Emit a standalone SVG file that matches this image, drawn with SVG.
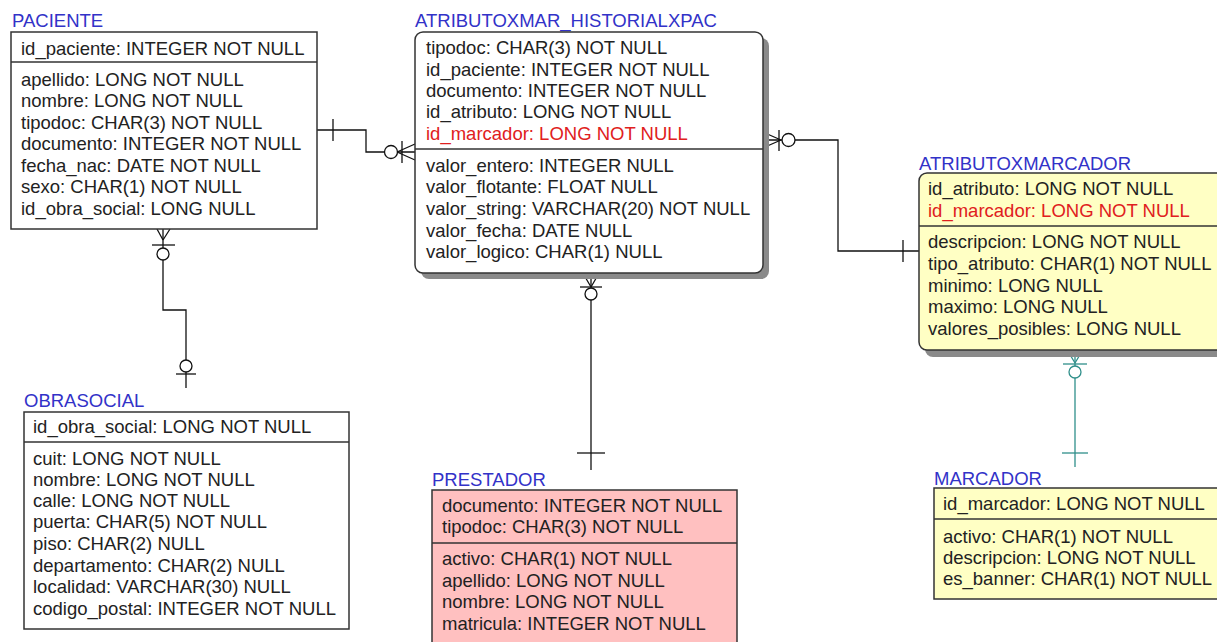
<svg xmlns="http://www.w3.org/2000/svg" width="1217" height="642" viewBox="0 0 1217 642">
<style>
text{font-family:"Liberation Sans",Arial,sans-serif;font-size:18.5px;fill:#222}
.t{fill:#3232c8}
.r{fill:#e02020}
.box{stroke:#333;stroke-width:1.5}
.div{stroke:#333;stroke-width:1.5}
.c{fill:none;stroke:#111;stroke-width:1.3}
.ct{fill:none;stroke:#2f8f8a;stroke-width:1.3}
.o{fill:#fff}
</style>
<rect width="1217" height="642" fill="#fff"/>
<g id="connectors">
  <g class="c">
    <path d="M317,130 H366 V152 H415"/>
    <path d="M333,119 V141"/>
    <circle class="o" cx="391" cy="152" r="6.5"/>
    <path d="M402,141 V163"/>
    <path d="M397,152 L415,144 M397,152 L415,160"/>

    <path d="M765,140 H838 V251 H919"/>
    <path d="M781,140 L765,133 M781,140 L765,147"/>
    <path d="M779,130 V151"/>
    <circle class="o" cx="788.5" cy="140" r="6.5"/>
    <path d="M903,240 V262"/>

    <path d="M163,229 V310 H186 V388"/>
    <path d="M163,240 L157,229 M163,240 L170,229"/>
    <path d="M152,245 H175"/>
    <circle class="o" cx="163" cy="254" r="6"/>
    <circle class="o" cx="186" cy="366" r="6"/>
    <path d="M176,374 H196"/>

    <path d="M591,279 V470"/>
    <path d="M591,287 L584,275 M591,287 L598,275"/>
    <path d="M580,287 H602"/>
    <circle class="o" cx="591" cy="294" r="6"/>
    <path d="M577,453 H605"/>
  </g>
  <g class="ct">
    <path d="M1075,357 V467"/>
    <path d="M1075,363 L1069,353 M1075,363 L1081,353"/>
    <path d="M1063,364 H1087"/>
    <circle class="o" cx="1075" cy="372" r="6"/>
    <path d="M1062,453 H1088"/>
  </g>
</g>

<g id="paciente">
  <text class="t" x="12" y="27">PACIENTE</text>
  <rect class="box" x="11" y="32" width="306" height="197" fill="#fff"/>
  <line class="div" x1="11" y1="62" x2="317" y2="62"/>
  <text x="21" y="55">id_paciente: INTEGER NOT NULL</text>
  <text x="21" y="86">apellido: LONG NOT NULL</text>
  <text x="21" y="107">nombre: LONG NOT NULL</text>
  <text x="21" y="129">tipodoc: CHAR(3) NOT NULL</text>
  <text x="21" y="150">documento: INTEGER NOT NULL</text>
  <text x="21" y="172">fecha_nac: DATE NOT NULL</text>
  <text x="21" y="193">sexo: CHAR(1) NOT NULL</text>
  <text x="21" y="215">id_obra_social: LONG NULL</text>
</g>

<g id="atributoxmar_historialxpac">
  <text class="t" x="415" y="27">ATRIBUTOXMAR_HISTORIALXPAC</text>
  <rect x="421" y="38" width="348" height="241" rx="8" fill="#8a8a8a"/>
  <rect class="box" x="415" y="32" width="348" height="241" rx="8" fill="#fff"/>
  <line class="div" x1="415" y1="149" x2="763" y2="149"/>
  <text x="426" y="54">tipodoc: CHAR(3) NOT NULL</text>
  <text x="426" y="76">id_paciente: INTEGER NOT NULL</text>
  <text x="426" y="97">documento: INTEGER NOT NULL</text>
  <text x="426" y="118">id_atributo: LONG NOT NULL</text>
  <text class="r" x="426" y="140">id_marcador: LONG NOT NULL</text>
  <text x="426" y="172">valor_entero: INTEGER NULL</text>
  <text x="426" y="193">valor_flotante: FLOAT NULL</text>
  <text x="426" y="215">valor_string: VARCHAR(20) NOT NULL</text>
  <text x="426" y="237">valor_fecha: DATE NULL</text>
  <text x="426" y="258">valor_logico: CHAR(1) NULL</text>
</g>

<g id="atributoxmarcador">
  <text class="t" x="919" y="170">ATRIBUTOXMARCADOR</text>
  <rect x="925" y="180" width="310" height="177" rx="8" fill="#8a8a8a"/>
  <rect class="box" x="919" y="173" width="310" height="177" rx="8" fill="#ffffc4"/>
  <line class="div" x1="919" y1="226" x2="1229" y2="226"/>
  <text x="928" y="195">id_atributo: LONG NOT NULL</text>
  <text class="r" x="928" y="217">id_marcador: LONG NOT NULL</text>
  <text x="928" y="248">descripcion: LONG NOT NULL</text>
  <text x="928" y="270">tipo_atributo: CHAR(1) NOT NULL</text>
  <text x="928" y="292">minimo: LONG NULL</text>
  <text x="928" y="313">maximo: LONG NULL</text>
  <text x="928" y="335">valores_posibles: LONG NULL</text>
</g>

<g id="obrasocial">
  <text class="t" x="24" y="407">OBRASOCIAL</text>
  <rect class="box" x="24" y="412" width="325" height="217" fill="#fff"/>
  <line class="div" x1="24" y1="442" x2="349" y2="442"/>
  <text x="33" y="433">id_obra_social: LONG NOT NULL</text>
  <text x="33" y="465">cuit: LONG NOT NULL</text>
  <text x="33" y="486">nombre: LONG NOT NULL</text>
  <text x="33" y="507">calle: LONG NOT NULL</text>
  <text x="33" y="528">puerta: CHAR(5) NOT NULL</text>
  <text x="33" y="550">piso: CHAR(2) NULL</text>
  <text x="33" y="572">departamento: CHAR(2) NULL</text>
  <text x="33" y="593">localidad: VARCHAR(30) NULL</text>
  <text x="33" y="615">codigo_postal: INTEGER NOT NULL</text>
</g>

<g id="prestador">
  <text class="t" x="432" y="486">PRESTADOR</text>
  <rect class="box" x="432" y="490" width="305" height="165" fill="#ffc0c0"/>
  <line class="div" x1="432" y1="543" x2="737" y2="543"/>
  <text x="442" y="512">documento: INTEGER NOT NULL</text>
  <text x="442" y="533">tipodoc: CHAR(3) NOT NULL</text>
  <text x="442" y="565">activo: CHAR(1) NOT NULL</text>
  <text x="442" y="587">apellido: LONG NOT NULL</text>
  <text x="442" y="608">nombre: LONG NOT NULL</text>
  <text x="442" y="630">matricula: INTEGER NOT NULL</text>
</g>

<g id="marcador">
  <text class="t" x="934" y="485">MARCADOR</text>
  <rect class="box" x="934" y="488" width="295" height="111" fill="#ffffc4"/>
  <line class="div" x1="934" y1="519" x2="1229" y2="519"/>
  <text x="943" y="510">id_marcador: LONG NOT NULL</text>
  <text x="943" y="543">activo: CHAR(1) NOT NULL</text>
  <text x="943" y="564">descripcion: LONG NOT NULL</text>
  <text x="943" y="585">es_banner: CHAR(1) NOT NULL</text>
</g>
</svg>
